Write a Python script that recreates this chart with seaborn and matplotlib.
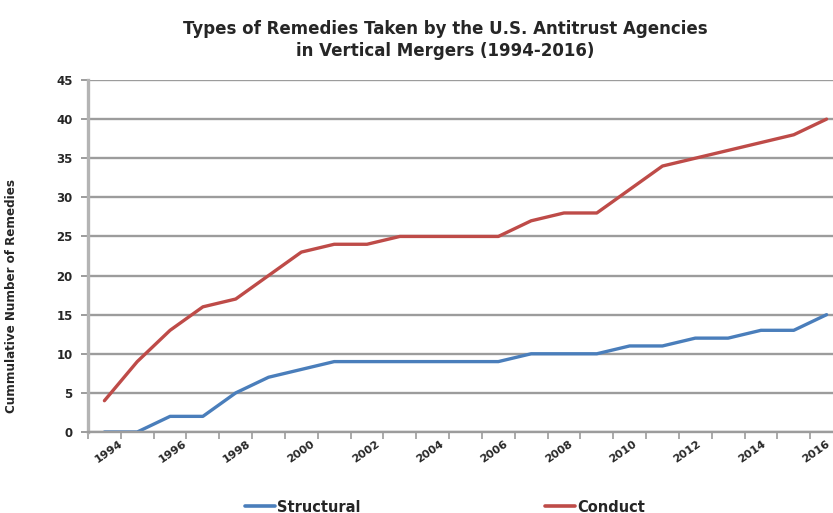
import matplotlib
matplotlib.use("Agg")
import matplotlib.pyplot as plt
from matplotlib.lines import Line2D
import seaborn as sns
import pandas as pd

years = list(range(1994, 2017))
structural = [0, 0, 2, 2, 5, 7, 8, 9, 9, 9, 9, 9, 9, 10, 10, 10, 11, 11, 12, 12, 13, 13, 15]
conduct = [4, 9, 13, 16, 17, 20, 23, 24, 24, 25, 25, 25, 25, 27, 28, 28, 31, 34, 35, 36, 37, 38, 40]
series_names = ["Structural", "Conduct"]
colors = {"Structural": "#4A7EBB", "Conduct": "#BE4B48"}

title = "Types of Remedies Taken by the U.S. Antitrust Agencies\nin Vertical Mergers (1994-2016)"
ylabel = "Cummulative Number of Remedies"

sns.set_theme(style="white")
plt.rcParams["font.family"] = ["DejaVu Sans"]
text_color = "#262626"

df = pd.DataFrame({
    "idx": list(range(len(years))) * 2,
    "value": structural + conduct,
    "series": [series_names[0]] * len(years) + [series_names[1]] * len(years),
})

fig = plt.figure(figsize=(8.33, 5.13), dpi=100)
ax = fig.add_axes([88 / 833, 1 - 432 / 513, (843 - 88) / 833, 352 / 513])

sns.lineplot(data=df, x="idx", y="value", hue="series", palette=colors,
             linewidth=2.4, ax=ax, legend=False)

ax.set_xlim(-0.5, len(years) - 0.5)
ax.set_ylim(0, 45)
ax.set_yticks(range(0, 46, 5))
ax.yaxis.grid(True, color="#9c9c9c", linewidth=1.7)
ax.set_axisbelow(True)

for s in ["top", "right"]:
    ax.spines[s].set_visible(False)
ax.spines["left"].set_color("#b4b4b4")
ax.spines["left"].set_linewidth(2.4)
ax.spines["bottom"].set_color("#9c9c9c")
ax.spines["bottom"].set_linewidth(1.7)

# year labels on every other category, packed slightly tighter than the
# categories so the last one stays inside the canvas
label_idx = list(range(0, len(years), 2))
label_pos = [i + (0.12 - 0.02 * i) for i in label_idx]
ax.set_xticks(label_pos)
ax.set_xticklabels([str(years[i]) for i in label_idx], rotation=35,
                   ha="center", va="top", fontsize=8, fontweight="bold",
                   color=text_color)
ax.set_xticks([i - 0.5 for i in range(len(years) + 1)], minor=True)
ax.tick_params(axis="x", which="major", length=0, pad=5)
ax.tick_params(axis="x", which="minor", length=5, width=1.2,
               color="#9c9c9c", direction="out", bottom=True)
ax.tick_params(axis="y", which="major", length=5, width=1.4, color="#9c9c9c",
               direction="out", left=True, labelsize=8.5, pad=6)
for t in ax.get_yticklabels():
    t.set_fontweight("bold")
    t.set_color(text_color)

ax.set_xlabel("")
ax.set_ylabel(ylabel, fontsize=9.5, fontweight="bold", fontstretch="condensed",
              color=text_color)
ax.yaxis.set_label_coords((18 - 88) / 755, (432 - 296) / 352)

fig.text(445 / 833, 1 - 40 / 513, title, ha="center", va="center",
         fontsize=12, fontweight="bold", color=text_color, linespacing=1.3)

handles = [Line2D([0], [0], color=colors[n], linewidth=2.6) for n in series_names]
fig.legend(handles, series_names, loc="center", bbox_to_anchor=(445 / 833, 1 - 507 / 513),
           ncol=2, frameon=False, handlelength=2.05, handletextpad=0.1,
           columnspacing=12.7, prop={"weight": "bold", "size": 10.5})

fig.savefig("out.png", dpi=100)
